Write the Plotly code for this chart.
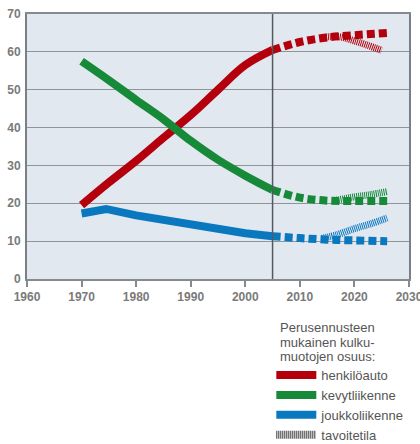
import plotly.graph_objects as go

# ---- data ----
hist_years = [1970, 1975, 1980, 1985, 1990, 1995, 2000, 2005]
red_hist = [19.5, 25.5, 31.2, 37.3, 43.3, 50.0, 56.5, 60.5]
green_hist = [57.5, 52.5, 47.3, 42.2, 36.5, 31.5, 27.3, 23.5]
blue_hist_years = [1970, 1974.5, 1980, 1985, 1990, 1995, 2000, 2005]
blue_hist = [17.3, 18.5, 16.8, 15.5, 14.2, 13.1, 12.1, 11.3]

fc_years = [2005, 2010, 2015, 2020, 2026]
red_fc = [60.5, 62.6, 63.8, 64.4, 65.0]
green_fc = [23.5, 21.5, 20.7, 20.6, 20.6]
blue_fc = [11.3, 10.8, 10.4, 10.2, 10.0]

red_tg_years = [2014, 2017, 2020, 2025]
red_tg = [63.8, 64.0, 62.9, 60.4]
green_tg_years = [2016, 2020, 2023, 2026]
green_tg = [20.6, 21.7, 22.3, 23.1]
blue_tg_years = [2014, 2017, 2020, 2023, 2026]
blue_tg = [10.7, 11.8, 13.3, 14.6, 16.1]

forecast_start = 2005
x_ticks = [1960, 1970, 1980, 1990, 2000, 2010, 2020, 2030]
y_ticks = [0, 10, 20, 30, 40, 50, 60, 70]

names = ["henkilöauto", "kevytliikenne", "joukkoliikenne"]
legend_title_lines = ["Perusennusteen", "mukainen kulku-", "muotojen osuus:"]
target_name = "tavoitetila"

RED = "#b4000c"
GREEN = "#178a3a"
BLUE = "#0a78bf"
LW = 8

fig = go.Figure()

series = [
    ("blue", names[2], BLUE, blue_hist_years, blue_hist, blue_fc, blue_tg_years, blue_tg, 3, "linear"),
    ("red", names[0], RED, hist_years, red_hist, red_fc, red_tg_years, red_tg, 1, "spline"),
    ("green", names[1], GREEN, hist_years, green_hist, green_fc, green_tg_years, green_tg, 2, "spline"),
]

for key, name, col, hy, hv, fv, ty, tv, rank, shp in series:
    fig.add_trace(go.Scatter(x=ty, y=tv, mode="lines", showlegend=False,
                             line=dict(color=col, width=LW - 1, dash="1px,1px", shape="spline"),
                             hoverinfo="skip"))
    fig.add_trace(go.Scatter(x=fc_years, y=fv, mode="lines", showlegend=False,
                             legendgroup=key,
                             line=dict(color=col, width=LW, dash="8px,4px", shape="spline"),
                             hoverinfo="skip"))
    fig.add_trace(go.Scatter(x=hy, y=hv, mode="lines", name=name, legendgroup=key,
                             legendrank=rank,
                             line=dict(color=col, width=LW, shape=shp),
                             hoverinfo="skip"))

fig.add_trace(go.Scatter(x=[None], y=[None], mode="lines", name=target_name, legendrank=4,
                         line=dict(color="#333333", width=LW, dash="1px,1px")))

fig.add_vline(x=forecast_start, line=dict(color="#555a60", width=1.5), layer="above")

font_family = "Liberation Sans, Arial, sans-serif"

# legend title as three stacked lines (tight line spacing as in the reference)
title_y = [-0.184, -0.238, -0.291]
for txt, yy in zip(legend_title_lines, title_y):
    fig.add_annotation(text=txt, xref="paper", yref="paper", x=0.657, y=yy,
                       xanchor="left", yanchor="middle", showarrow=False,
                       font=dict(size=13, color="#555555", family=font_family))

fig.update_layout(
    width=420, height=444,
    margin=dict(l=27, r=11, t=14, b=165, autoexpand=False),
    paper_bgcolor="white",
    plot_bgcolor="#e1e8f0",
    font=dict(family=font_family, color="#5a5a5a"),
    showlegend=True,
    legend=dict(
        xref="container", yref="container",
        x=0.646, xanchor="left", y=0.189, yanchor="top",
        font=dict(size=13, color="#555555"),
        bgcolor="rgba(0,0,0,0)",
        tracegroupgap=0, itemwidth=40,
    ),
)

fig.update_xaxes(
    range=[1960, 2030], tickvals=x_ticks, showgrid=False,
    showline=True, linecolor="#858a90", linewidth=2, mirror=True,
    ticks="outside", ticklen=6, tickwidth=2, tickcolor="#858a90",
    tickfont=dict(size=12, color="#7a7a7a", weight="bold"), zeroline=False,
    automargin=False, ticklabeloverflow="allow",
)
fig.update_yaxes(
    range=[0, 70], tickvals=y_ticks, showgrid=True, gridcolor="#8e949a", gridwidth=1,
    showline=True, linecolor="#7a7f85", linewidth=2, mirror=True,
    ticks="", ticklabelstandoff=2,
    tickfont=dict(size=12, color="#7a7a7a", weight="bold"), zeroline=False,
    automargin=False,
)

fig.write_html("out.html", config={"displayModeBar": False},
               post_script="document.body.style.margin='0px';")
